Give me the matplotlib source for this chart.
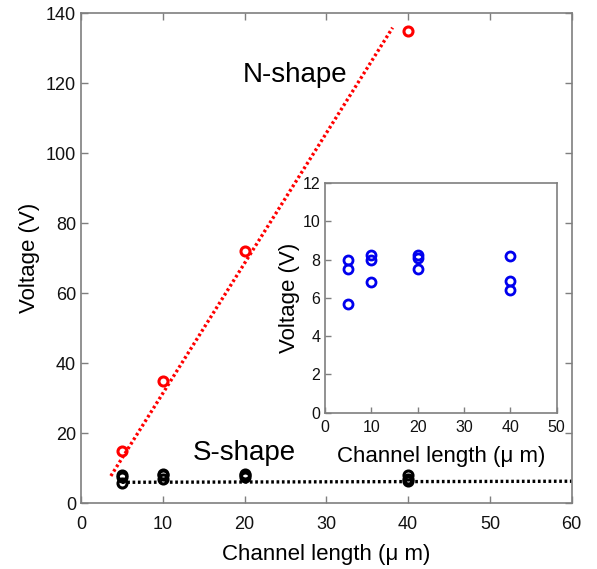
import matplotlib.pyplot as plt

plt.rcParams['font.family'] = ['Liberation Sans', 'DejaVu Sans']

# N-shape (red) data and fit
n_x = [5, 10, 20, 40]
n_v = [15, 35, 72, 135]
n_fit_x = [3.65, 38.1]
n_fit_v = [7.8, 135.9]

# S-shape data (black in main, blue in inset)
s_x = [5, 5, 5, 10, 10, 10, 20, 20, 20, 40, 40, 40]
s_v = [8.0, 7.5, 5.7, 8.25, 8.0, 6.8, 8.25, 8.1, 7.5, 8.2, 6.9, 6.4]
s_fit_x = [5, 60]
s_fit_v = [6.0, 6.3]

main_xticks = [0, 10, 20, 30, 40, 50, 60]
main_yticks = [0, 20, 40, 60, 80, 100, 120, 140]
inset_xticks = [0, 10, 20, 30, 40, 50]
inset_yticks = [0, 2, 4, 6, 8, 10, 12]

spine_col = '#7f7f7f'
dots = (0, (0.8, 0.8))


def style_axes(ax, fs):
    for s in ax.spines.values():
        s.set_color(spine_col)
        s.set_linewidth(1.2)
    ax.tick_params(direction='in', length=5, width=1.0, color=spine_col,
                   top=True, right=True, labelsize=fs, labelcolor='#111111')


fig = plt.figure(figsize=(5.97, 5.69), dpi=100)
ax = fig.add_axes([0.1357, 0.1155, 0.8219, 0.8611])

ax.plot(n_fit_x, n_fit_v, linestyle=dots, color='red', lw=2.4)
ax.plot(n_x, n_v, 'o', mfc='none', mec='red', ms=6.5, mew=2.2)
ax.plot(s_fit_x, s_fit_v, linestyle=dots, color='black', lw=2.4)
ax.plot(s_x, s_v, 'o', mfc='none', mec='black', ms=6.5, mew=2.2)

ax.text(26.2, 122.4, 'N-shape', fontsize=20, ha='center', va='center')
ax.text(20.0, 14.5, 'S-shape', fontsize=20, ha='center', va='center')

ax.set_xlim(0, 60)
ax.set_ylim(0, 140)
ax.set_xticks(main_xticks)
ax.set_yticks(main_yticks)
ax.set_xlabel('Channel length (\u03bc m)', fontsize=16, labelpad=8)
ax.set_ylabel('Voltage (V)', fontsize=16)
style_axes(ax, 13)
ax.tick_params(axis='x', pad=9)

# inset
axi = fig.add_axes([0.5444, 0.2749, 0.3881, 0.4035])
axi.plot(s_x, s_v, 'o', mfc='none', mec='#0000ee', ms=6.5, mew=2.0)
axi.set_xlim(0, 50)
axi.set_ylim(0, 12)
axi.set_xticks(inset_xticks)
axi.set_yticks(inset_yticks)
axi.set_xlabel('Channel length (\u03bc m)', fontsize=16, labelpad=8)
axi.set_ylabel('Voltage (V)', fontsize=16, labelpad=2)
style_axes(axi, 11.5)
axi.tick_params(top=False, right=False, length=4)
axi.tick_params(axis='x', pad=5)

fig.savefig('out.png', dpi=100)
